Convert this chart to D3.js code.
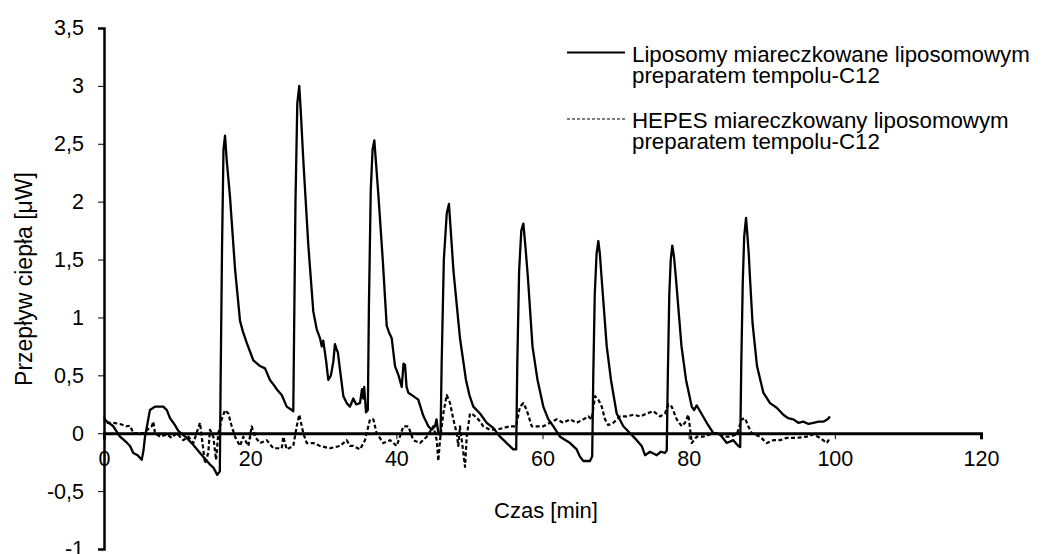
<!DOCTYPE html>
<html>
<head>
<meta charset="utf-8">
<script src="https://cdn.jsdelivr.net/npm/d3@7/dist/d3.min.js"></script>
<style>
  html, body { margin: 0; padding: 0; background: #fff; }
  svg { display: block; }
  text { font-family: Arial, "Liberation Sans", sans-serif; fill: #000; }
</style>
</head>
<body>
<svg id="chart" width="1042" height="554"></svg>
<script>
// Heat flow (µW) against time (min) for two titrations
const xTicks = [0, 20, 40, 60, 80, 100, 120];
const yTicks = [-1, -0.5, 0, 0.5, 1, 1.5, 2, 2.5, 3, 3.5];

const seriesNames = [
  ["Liposomy miareczkowane liposomowym", "preparatem tempolu-C12"],
  ["HEPES miareczkowany liposomowym", "preparatem tempolu-C12"]
];

// Liposomes titrated with liposomal tempol-C12
const lipoTime = [0,1.27,2.19,3.1,3.56,4.01,4.6,5.16,5.4,5.61,6.29,6.98,8.11,8.6,9.03,9.6,10.17,11.32,12.2,13.14,14.5,15.0,15.5,15.85,
  15.95,16.15,16.35,16.56,16.8,17.23,17.93,18.61,19.0,19.53,20.43,21.35,22.03,22.71,23.2,23.63,24.32,25.0,25.68,25.9,
  26.0,26.2,26.45,26.72,26.95,27.27,27.96,28.64,29.1,29.56,29.8,30.0,30.4,30.69,31.05,31.38,31.6,31.84,32.0,32.29,32.75,33.21,33.66,34.11,34.5,35.03,35.3,35.48,35.6,35.85,36.1,
  36.25,36.5,36.75,36.99,37.2,37.53,38.14,38.68,39.0,39.37,39.82,40.3,40.74,40.98,41.19,41.4,41.64,42.32,43.0,43.69,44.38,44.84,45.29,45.5,45.74,46.05,
  46.2,46.5,46.9,47.2,47.48,47.82,48.71,49.53,50.0,50.53,51.45,52.37,53.27,54.19,55.1,56.0,56.4,
  56.55,56.8,57.1,57.38,57.68,58.02,58.63,59.32,60.11,60.8,61.48,62.4,63.77,64.68,65.1,65.59,66.5,66.8,
  66.95,67.15,67.4,67.64,67.85,68.1,68.79,69.37,70.15,71.06,71.98,72.89,73.57,74.03,74.71,75.63,76.2,76.76,77.0,
  77.15,77.35,77.55,77.76,78.0,78.27,79.02,79.64,80.42,80.74,81.1,81.56,82.47,83.38,84.29,85.21,86.11,86.8,87.05,
  87.2,87.4,87.6,87.85,88.05,88.22,88.4,88.74,89.35,90.22,91.13,92.05,92.95,93.6,94.32,95.0,95.69,96.4,97.06,97.8,98.43,99.0,99.34];
const lipoFlow = [0.12,0.06,-0.03,-0.08,-0.11,-0.17,-0.19,-0.23,-0.15,-0.03,0.20,0.23,0.23,0.2,0.13,0.08,0.02,-0.04,-0.1,-0.17,-0.27,-0.3,-0.36,-0.33,
  0.4,1.6,2.45,2.57,2.35,2.05,1.42,0.97,0.88,0.78,0.63,0.58,0.56,0.46,0.42,0.38,0.33,0.23,0.20,0.19,
  0.8,2.0,2.85,3.0,2.75,2.36,1.62,1.05,0.9,0.82,0.75,0.80,0.62,0.46,0.5,0.62,0.77,0.72,0.7,0.55,0.32,0.26,0.23,0.30,0.25,0.26,0.38,0.3,0.4,0.18,0.2,
  1.1,2.1,2.45,2.53,2.35,2.07,1.5,0.93,0.87,0.82,0.58,0.5,0.40,0.6,0.59,0.4,0.35,0.32,0.29,0.15,0.06,0.03,0.06,0.12,0.0,-0.02,
  0.6,1.5,1.9,1.98,1.72,1.40,0.82,0.46,0.33,0.23,0.17,0.09,0.045,-0.03,-0.085,-0.14,-0.14,
  0.6,1.4,1.75,1.81,1.6,1.33,0.75,0.46,0.23,0.12,0.06,-0.03,-0.085,-0.14,-0.2,-0.24,-0.24,-0.2,
  0.5,1.2,1.55,1.66,1.55,1.33,0.75,0.46,0.17,0.06,0.0,-0.06,-0.11,-0.19,-0.16,-0.19,-0.16,-0.17,-0.15,
  0.5,1.2,1.5,1.62,1.52,1.33,0.75,0.46,0.23,0.2,0.24,0.19,0.09,0.0,-0.01,-0.085,-0.06,-0.11,-0.12,
  0.6,1.3,1.7,1.86,1.7,1.55,1.33,0.95,0.58,0.35,0.26,0.22,0.16,0.13,0.12,0.09,0.10,0.08,0.09,0.1,0.10,0.12,0.145];

// HEPES buffer titrated with liposomal tempol-C12
const hepesTime = [0,0.37,1.27,2.19,3.11,3.56,4.01,5.38,6.53,6.75,6.98,7.66,8.58,9.26,9.95,10.85,11.54,12.22,13.14,13.37,13.82,14.27,14.5,14.96,15.33,15.64,
  16.11,16.56,17.01,17.47,17.93,18.61,19.06,19.75,20.21,20.66,21.35,22.26,23.17,24.32,24.53,25.0,25.9,
  26.37,26.72,27.27,27.74,28.64,29.56,30.93,32.29,33.21,33.66,34.11,35.03,35.71,
  36.4,36.85,37.31,38.22,39.14,40.05,40.96,41.64,42.32,43.24,44.16,45.06,45.53,45.74,45.98,
  46.43,46.89,47.35,47.8,48.26,48.48,48.71,49.17,49.4,49.63,50.08,50.53,51.22,51.9,52.82,53.74,54.64,55.56,56.38,
  56.92,57.38,57.84,58.52,59.21,60.11,61.03,61.95,62.85,63.77,64.68,65.59,66.27,66.73,
  67.19,67.64,68.1,68.55,69.0,69.69,70.61,71.52,72.43,73.35,74.26,75.16,76.08,76.76,
  77.22,77.68,78.37,79.05,79.5,79.95,80.18,80.42,81.1,82.0,82.92,83.84,84.74,85.66,86.58,
  87.26,87.71,88.16,88.63,89.76,90.68,91.59,92.5,93.42,94.79,96.16,97.06,97.97,98.89,99.34];
const hepesFlow = [0.14,0.09,0.09,0.08,0.06,0.065,0.0,0.0,0.06,0.10,0.0,-0.03,-0.01,-0.04,0.0,-0.06,-0.03,-0.085,0.09,-0.03,-0.26,-0.17,0.03,-0.03,-0.23,0.0,
  0.12,0.20,0.17,0.06,-0.03,-0.11,-0.03,-0.11,0.06,-0.03,-0.085,-0.06,-0.13,-0.13,-0.03,-0.14,-0.11,
  0.06,0.16,0.0,-0.085,-0.085,-0.11,-0.13,-0.11,-0.06,-0.11,-0.11,-0.14,-0.06,
  0.12,0.12,0.0,-0.085,-0.06,-0.11,0.06,0.06,-0.06,-0.085,-0.03,0.06,-0.06,-0.24,-0.06,
  0.17,0.33,0.26,0.12,0.0,-0.11,0.06,-0.17,-0.29,-0.03,0.17,0.16,0.12,0.06,0.03,0.03,0.045,0.06,0.06,
  0.23,0.26,0.20,0.06,0.06,0.06,0.09,0.12,0.09,0.12,0.09,0.12,0.145,0.12,
  0.32,0.29,0.23,0.12,0.07,0.09,0.145,0.145,0.16,0.145,0.17,0.19,0.145,0.17,
  0.25,0.23,0.12,0.06,0.09,0.16,0.045,-0.085,-0.03,-0.03,-0.01,0.0,-0.03,-0.03,-0.01,
  0.12,0.13,0.06,0.0,-0.03,-0.085,-0.06,-0.06,-0.04,-0.04,-0.03,-0.01,-0.04,-0.085,-0.04];

const svg = d3.select("#chart");

const x = d3.scaleLinear().domain([0, 120]).range([104, 981]);
const y = d3.scaleLinear().domain([-1, 3.5]).range([549, 28]);

const fmt = v => String(v).replace(".", ",");
const FONT = "Arial, 'Liberation Sans', sans-serif";
const TICK_FS = 21.5;

// y axis with ticks pointing left
const yAxis = d3.axisLeft(y).tickValues(yTicks).tickSize(6).tickPadding(14).tickFormat(fmt);
const gy = svg.append("g").attr("transform", `translate(${x(0)},0)`).call(yAxis);
gy.select(".domain").attr("stroke", "#000").attr("stroke-width", 2.5);
gy.selectAll(".tick line").attr("stroke", "#000").attr("stroke-width", 1);
gy.selectAll(".tick text").attr("font-size", TICK_FS).attr("font-family", FONT);

// x axis drawn along y = 0
const xAxis = d3.axisBottom(x).tickValues(xTicks).tickSize(6).tickPadding(12).tickFormat(d3.format("d"));
const gx = svg.append("g").attr("transform", `translate(0,${y(0)})`).call(xAxis);
gx.select(".domain").attr("stroke", "#000").attr("stroke-width", 3);
gx.selectAll(".tick line").attr("stroke", "#000").attr("stroke-width", 1);
gx.selectAll(".tick text").attr("font-size", TICK_FS).attr("font-family", FONT);

// data lines
const line = d3.line().x(d => x(d[0])).y(d => y(d[1]));
const lipo = lipoTime.map((t, i) => [t, lipoFlow[i]]);
const hepes = hepesTime.map((t, i) => [t, hepesFlow[i]]);

svg.append("path").datum(hepes)
  .attr("d", line).attr("fill", "none").attr("stroke", "#000")
  .attr("stroke-width", 2.2).attr("stroke-dasharray", "4,2.5").attr("stroke-linejoin", "round");

svg.append("path").datum(lipo)
  .attr("d", line).attr("fill", "none").attr("stroke", "#000")
  .attr("stroke-width", 2.3).attr("stroke-linejoin", "round");

// axis titles
svg.append("text")
  .attr("x", 546).attr("y", 518)
  .attr("text-anchor", "middle").attr("font-size", 22)
  .text("Czas [min]");

svg.append("text")
  .attr("transform", "translate(32,279) rotate(-90)")
  .attr("text-anchor", "middle").attr("font-size", 23)
  .text("Przepływ ciepła [μW]");

// legend
const legend = svg.append("g");
const legendRows = [
  { y: 52.5, dash: null, width: 2, base: 61.7 },
  { y: 119, dash: "3,2", width: 1.2, base: 128.3 }
];
legendRows.forEach((r, i) => {
  legend.append("line")
    .attr("x1", 567).attr("x2", 625).attr("y1", r.y).attr("y2", r.y)
    .attr("stroke", "#000").attr("stroke-width", r.width)
    .attr("stroke-dasharray", r.dash);
  const t = legend.append("text").attr("x", 632).attr("y", r.base).attr("font-size", 22.3);
  seriesNames[i].forEach((s, j) => {
    t.append("tspan").attr("x", 632).attr("dy", j === 0 ? 0 : 21).text(s);
  });
});
</script>
</body>
</html>
